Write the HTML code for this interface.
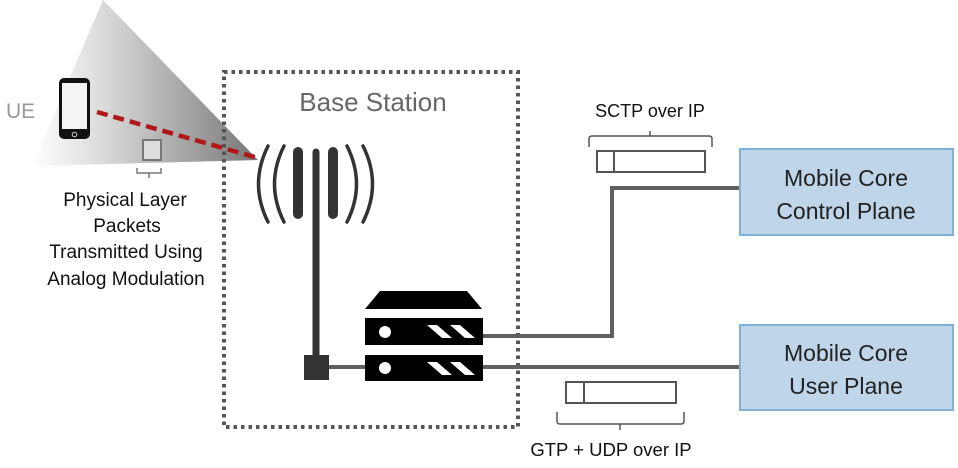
<!DOCTYPE html>
<html><head><meta charset="utf-8"><style>
html,body{margin:0;padding:0;background:#fff;}
svg{display:block;font-family:"Liberation Sans",sans-serif;}
</style></head><body>
<svg width="958" height="468" viewBox="0 0 958 468" xmlns="http://www.w3.org/2000/svg">
<defs>
<linearGradient id="g" x1="0" y1="0" x2="1" y2="0">
<stop offset="0" stop-color="#fff"/>
<stop offset="0.3" stop-color="#dcdcdc"/>
<stop offset="1" stop-color="#777"/>
</linearGradient>
</defs>
<polygon points="103,0 258,160 32,166" fill="url(#g)"/>
<rect x="224" y="72" width="294" height="355" fill="none" stroke="#555" stroke-width="4" stroke-dasharray="3.5,4"/>
<text x="373" y="111" font-size="26" fill="#666" text-anchor="middle">Base Station</text>
<text x="6" y="118" font-size="21" fill="#999">UE</text>
<rect x="59" y="78" width="31" height="61" rx="5" fill="#111"/>
<rect x="62" y="83" width="25" height="46" fill="#f4f4f4"/>
<circle cx="74.5" cy="134.5" r="2.3" fill="none" stroke="#ccc" stroke-width="1"/>
<line x1="97" y1="112" x2="258" y2="158" stroke="#b01818" stroke-width="4.5" stroke-dasharray="11,6"/>
<rect x="143" y="140" width="18" height="20" fill="#ddd" stroke="#777" stroke-width="2"/>
<path d="M137 168 v5 h24 v-5 M149 173 v5" fill="none" stroke="#777" stroke-width="1.5"/>
<g font-size="19" fill="#111" text-anchor="middle">
<text x="125" y="206">Physical Layer</text>
<text x="127" y="232">Packets</text>
<text x="126" y="258">Transmitted Using</text>
<text x="126" y="285">Analog Modulation</text>
</g>
<g fill="none" stroke="#333" stroke-width="3.5" stroke-linecap="round">
<path d="M268 146 Q249 184 268 222"/>
<path d="M284 146 Q265 184 284 222"/>
<path d="M347 146 Q366 184 347 222"/>
<path d="M363 146 Q382 184 363 222"/>
</g>
<line x1="298" y1="152" x2="298" y2="214" stroke="#333" stroke-width="10" stroke-linecap="round"/>
<line x1="333" y1="152" x2="333" y2="214" stroke="#333" stroke-width="10" stroke-linecap="round"/>
<line x1="316" y1="152" x2="316" y2="360" stroke="#333" stroke-width="7" stroke-linecap="round"/>
<rect x="304" y="355" width="25" height="25" fill="#333"/>
<path d="M483 336 H612 V188 H740" fill="none" stroke="#606060" stroke-width="4"/>
<line x1="329" y1="367" x2="740" y2="367" stroke="#606060" stroke-width="4"/>
<polygon points="380,291 467,291 482,309 365,309" fill="#000"/>
<rect x="365" y="318" width="118" height="27" fill="#000"/>
<rect x="365" y="355" width="118" height="26" fill="#000"/>
<circle cx="385" cy="332" r="6" fill="#fff"/>
<circle cx="385" cy="368" r="6" fill="#fff"/>
<g fill="#fff">
<polygon points="427,325 437,325 452,338 442,338"/>
<polygon points="450,325 460,325 475,338 465,338"/>
<polygon points="427,362 437,362 452,375 442,375"/>
<polygon points="450,362 460,362 475,375 465,375"/>
</g>
<text x="650" y="117" font-size="18" fill="#111" text-anchor="middle">SCTP over IP</text>
<path d="M589 147 v-8 q0-3 3-3 h58 v-5 M650 136 h59 q3 0 3 3 v8" fill="none" stroke="#555" stroke-width="1.5"/>
<rect x="597" y="151" width="108" height="21" fill="#fff" stroke="#555" stroke-width="2"/>
<line x1="614" y1="151" x2="614" y2="172" stroke="#555" stroke-width="2"/>
<rect x="566" y="382" width="110" height="21" fill="#fff" stroke="#555" stroke-width="2"/>
<line x1="584" y1="382" x2="584" y2="403" stroke="#555" stroke-width="2"/>
<path d="M557 412 v9 q0 3 3 3 h60 v6 M620 424 h61 q3 0 3-3 v-9" fill="none" stroke="#555" stroke-width="1.5"/>
<text x="611" y="456" font-size="18.5" fill="#111" text-anchor="middle">GTP + UDP over IP</text>
<rect x="740" y="149" width="213" height="86" fill="#bed5ea" stroke="#84b1d6" stroke-width="2"/>
<text x="846" y="186" font-size="23" fill="#222" text-anchor="middle">Mobile Core</text>
<text x="846" y="219" font-size="23" fill="#222" text-anchor="middle">Control Plane</text>
<rect x="740" y="325" width="213" height="85" fill="#bed5ea" stroke="#84b1d6" stroke-width="2"/>
<text x="846" y="361" font-size="23" fill="#222" text-anchor="middle">Mobile Core</text>
<text x="846" y="394" font-size="23" fill="#222" text-anchor="middle">User Plane</text>
</svg>
</body></html>
